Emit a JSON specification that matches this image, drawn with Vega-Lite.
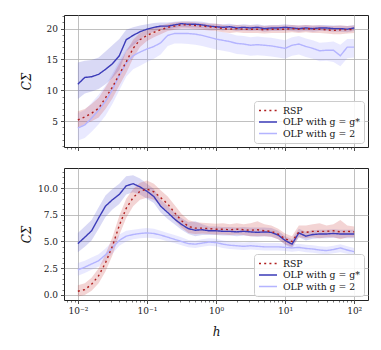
{
"$schema": "https://vega.github.io/schema/vega-lite/v6.json",
"padding": {"left": 19, "top": 14, "right": 5, "bottom": 5},
"spacing": 15,
"config": {
  "view": {"stroke": "#222222", "strokeWidth": 1},
  "font": "DejaVu Serif",
  "axis": {"labelFont": "DejaVu Serif", "labelFontSize": 9, "labelColor": "#222222", "titleFont": "DejaVu Serif", "titleFontWeight": "normal", "titleColor": "#111111", "tickColor": "#222222", "tickSize": 3.5, "tickWidth": 0.8, "domain": false, "gridColor": "#b0b0b0", "gridWidth": 0.8},
  "legend": {"orient": "bottom-right", "offset": 4, "padding": 4, "fillColor": "rgba(255,255,255,0.85)", "strokeColor": "#cccccc", "cornerRadius": 3, "labelFont": "DejaVu Serif", "labelFontSize": 9.3, "labelColor": "#111111", "symbolType": "M-1,0H3", "symbolSize": 81, "symbolStrokeWidth": 1.6, "rowPadding": 0.5, "labelOffset": 14}
},
"datasets": {
"top": [
{"h":0.01,"s":"OLP with g = 2","v":3.9,"lo":1.9,"hi":6.3},
{"h":0.0126,"s":"OLP with g = 2","v":4.4,"lo":2.3,"hi":6.8},
{"h":0.0158,"s":"OLP with g = 2","v":5.5,"lo":3.3,"hi":8.0},
{"h":0.02,"s":"OLP with g = 2","v":6.8,"lo":4.5,"hi":9.3},
{"h":0.0251,"s":"OLP with g = 2","v":8.2,"lo":5.9,"hi":10.8},
{"h":0.0316,"s":"OLP with g = 2","v":10.1,"lo":7.8,"hi":12.7},
{"h":0.0398,"s":"OLP with g = 2","v":12.4,"lo":10.0,"hi":14.8},
{"h":0.0501,"s":"OLP with g = 2","v":14.4,"lo":12.2,"hi":16.6},
{"h":0.0631,"s":"OLP with g = 2","v":15.6,"lo":13.4,"hi":17.8},
{"h":0.0794,"s":"OLP with g = 2","v":16.2,"lo":14.0,"hi":18.4},
{"h":0.1,"s":"OLP with g = 2","v":16.7,"lo":14.6,"hi":18.8},
{"h":0.126,"s":"OLP with g = 2","v":17.1,"lo":15.1,"hi":19.2},
{"h":0.158,"s":"OLP with g = 2","v":17.7,"lo":15.8,"hi":19.6},
{"h":0.2,"s":"OLP with g = 2","v":18.9,"lo":17.2,"hi":20.3},
{"h":0.251,"s":"OLP with g = 2","v":19.2,"lo":17.6,"hi":20.5},
{"h":0.316,"s":"OLP with g = 2","v":19.2,"lo":17.6,"hi":20.5},
{"h":0.398,"s":"OLP with g = 2","v":19.2,"lo":17.5,"hi":20.5},
{"h":0.501,"s":"OLP with g = 2","v":19.1,"lo":17.4,"hi":20.4},
{"h":0.631,"s":"OLP with g = 2","v":18.9,"lo":17.2,"hi":20.2},
{"h":0.794,"s":"OLP with g = 2","v":18.6,"lo":16.9,"hi":19.9},
{"h":1,"s":"OLP with g = 2","v":18.3,"lo":16.6,"hi":19.6},
{"h":1.26,"s":"OLP with g = 2","v":18.1,"lo":16.4,"hi":19.4},
{"h":1.58,"s":"OLP with g = 2","v":17.9,"lo":16.2,"hi":19.2},
{"h":2,"s":"OLP with g = 2","v":17.6,"lo":15.9,"hi":18.9},
{"h":2.51,"s":"OLP with g = 2","v":17.5,"lo":15.8,"hi":18.8},
{"h":3.16,"s":"OLP with g = 2","v":17.3,"lo":15.6,"hi":18.6},
{"h":3.98,"s":"OLP with g = 2","v":17.4,"lo":15.7,"hi":18.7},
{"h":5.01,"s":"OLP with g = 2","v":17.3,"lo":15.6,"hi":18.6},
{"h":6.31,"s":"OLP with g = 2","v":17.2,"lo":15.5,"hi":18.5},
{"h":7.94,"s":"OLP with g = 2","v":17.0,"lo":15.3,"hi":18.3},
{"h":10,"s":"OLP with g = 2","v":16.8,"lo":15.1,"hi":18.1},
{"h":12.6,"s":"OLP with g = 2","v":17.3,"lo":15.6,"hi":18.6},
{"h":15.8,"s":"OLP with g = 2","v":17.5,"lo":15.8,"hi":18.8},
{"h":20,"s":"OLP with g = 2","v":17.1,"lo":15.4,"hi":18.4},
{"h":25.1,"s":"OLP with g = 2","v":16.8,"lo":15.1,"hi":18.1},
{"h":31.6,"s":"OLP with g = 2","v":16.4,"lo":14.7,"hi":17.7},
{"h":39.8,"s":"OLP with g = 2","v":16.5,"lo":14.8,"hi":17.8},
{"h":50.1,"s":"OLP with g = 2","v":16.5,"lo":14.6,"hi":17.9},
{"h":63.1,"s":"OLP with g = 2","v":15.6,"lo":13.9,"hi":17.4},
{"h":79.4,"s":"OLP with g = 2","v":17.0,"lo":15.2,"hi":18.3},
{"h":100,"s":"OLP with g = 2","v":17.0,"lo":15.3,"hi":18.3},
{"h":0.01,"s":"OLP with g = g*","v":11.0,"lo":8.6,"hi":14.5},
{"h":0.0126,"s":"OLP with g = g*","v":12.1,"lo":9.5,"hi":14.8},
{"h":0.0158,"s":"OLP with g = g*","v":12.2,"lo":9.8,"hi":14.9},
{"h":0.02,"s":"OLP with g = g*","v":12.6,"lo":10.2,"hi":15.3},
{"h":0.0251,"s":"OLP with g = g*","v":13.4,"lo":11.0,"hi":16.3},
{"h":0.0316,"s":"OLP with g = g*","v":14.3,"lo":12.0,"hi":17.3},
{"h":0.0398,"s":"OLP with g = g*","v":15.6,"lo":13.3,"hi":18.3},
{"h":0.0501,"s":"OLP with g = g*","v":18.2,"lo":16.3,"hi":19.8},
{"h":0.0631,"s":"OLP with g = g*","v":18.9,"lo":17.3,"hi":20.2},
{"h":0.0794,"s":"OLP with g = g*","v":19.5,"lo":18.3,"hi":20.5},
{"h":0.1,"s":"OLP with g = g*","v":19.9,"lo":19.0,"hi":20.7},
{"h":0.126,"s":"OLP with g = g*","v":20.2,"lo":19.5,"hi":20.9},
{"h":0.158,"s":"OLP with g = g*","v":20.4,"lo":19.8,"hi":21.0},
{"h":0.2,"s":"OLP with g = g*","v":20.4,"lo":19.9,"hi":21.0},
{"h":0.251,"s":"OLP with g = g*","v":20.6,"lo":20.1,"hi":21.1},
{"h":0.316,"s":"OLP with g = g*","v":20.8,"lo":20.3,"hi":21.2},
{"h":0.398,"s":"OLP with g = g*","v":20.7,"lo":20.2,"hi":21.2},
{"h":0.501,"s":"OLP with g = g*","v":20.7,"lo":20.2,"hi":21.2},
{"h":0.631,"s":"OLP with g = g*","v":20.6,"lo":20.1,"hi":21.1},
{"h":0.794,"s":"OLP with g = g*","v":20.4,"lo":19.9,"hi":20.9},
{"h":1,"s":"OLP with g = g*","v":20.3,"lo":19.8,"hi":20.8},
{"h":1.26,"s":"OLP with g = g*","v":20.2,"lo":19.7,"hi":20.7},
{"h":1.58,"s":"OLP with g = g*","v":20.3,"lo":19.8,"hi":20.8},
{"h":2,"s":"OLP with g = g*","v":20.1,"lo":19.6,"hi":20.6},
{"h":2.51,"s":"OLP with g = g*","v":20.2,"lo":19.7,"hi":20.7},
{"h":3.16,"s":"OLP with g = g*","v":20.1,"lo":19.6,"hi":20.6},
{"h":3.98,"s":"OLP with g = g*","v":20.2,"lo":19.7,"hi":20.7},
{"h":5.01,"s":"OLP with g = g*","v":20.0,"lo":19.5,"hi":20.5},
{"h":6.31,"s":"OLP with g = g*","v":20.1,"lo":19.6,"hi":20.6},
{"h":7.94,"s":"OLP with g = g*","v":20.1,"lo":19.6,"hi":20.6},
{"h":10,"s":"OLP with g = g*","v":20.2,"lo":19.7,"hi":20.7},
{"h":12.6,"s":"OLP with g = g*","v":20.1,"lo":19.6,"hi":20.6},
{"h":15.8,"s":"OLP with g = g*","v":20.0,"lo":19.5,"hi":20.5},
{"h":20,"s":"OLP with g = g*","v":20.1,"lo":19.6,"hi":20.6},
{"h":25.1,"s":"OLP with g = g*","v":20.0,"lo":19.5,"hi":20.5},
{"h":31.6,"s":"OLP with g = g*","v":20.1,"lo":19.6,"hi":20.6},
{"h":39.8,"s":"OLP with g = g*","v":20.1,"lo":19.6,"hi":20.6},
{"h":50.1,"s":"OLP with g = g*","v":20.0,"lo":19.5,"hi":20.5},
{"h":63.1,"s":"OLP with g = g*","v":20.0,"lo":19.5,"hi":20.5},
{"h":79.4,"s":"OLP with g = g*","v":19.9,"lo":19.4,"hi":20.4},
{"h":100,"s":"OLP with g = g*","v":20.1,"lo":19.6,"hi":20.6},
{"h":0.01,"s":"RSP","v":5.2,"lo":4.0,"hi":6.6},
{"h":0.0126,"s":"RSP","v":5.7,"lo":4.5,"hi":7.0},
{"h":0.0158,"s":"RSP","v":6.3,"lo":5.0,"hi":7.8},
{"h":0.02,"s":"RSP","v":7.1,"lo":5.6,"hi":8.8},
{"h":0.0251,"s":"RSP","v":8.8,"lo":7.0,"hi":10.5},
{"h":0.0316,"s":"RSP","v":10.5,"lo":8.7,"hi":12.3},
{"h":0.0398,"s":"RSP","v":12.6,"lo":10.8,"hi":14.3},
{"h":0.0501,"s":"RSP","v":14.6,"lo":12.8,"hi":16.3},
{"h":0.0631,"s":"RSP","v":16.8,"lo":15.2,"hi":18.2},
{"h":0.0794,"s":"RSP","v":18.2,"lo":17.0,"hi":19.3},
{"h":0.1,"s":"RSP","v":18.9,"lo":18.0,"hi":19.8},
{"h":0.126,"s":"RSP","v":19.4,"lo":18.6,"hi":20.2},
{"h":0.158,"s":"RSP","v":19.8,"lo":19.1,"hi":20.5},
{"h":0.2,"s":"RSP","v":20.2,"lo":19.6,"hi":20.8},
{"h":0.251,"s":"RSP","v":20.4,"lo":19.8,"hi":21.0},
{"h":0.316,"s":"RSP","v":20.6,"lo":20.0,"hi":21.1},
{"h":0.398,"s":"RSP","v":20.6,"lo":20.0,"hi":21.1},
{"h":0.501,"s":"RSP","v":20.5,"lo":19.9,"hi":21.0},
{"h":0.631,"s":"RSP","v":20.4,"lo":19.8,"hi":20.9},
{"h":0.794,"s":"RSP","v":20.3,"lo":19.7,"hi":20.8},
{"h":1,"s":"RSP","v":20.2,"lo":19.6,"hi":20.8},
{"h":1.26,"s":"RSP","v":20.0,"lo":19.4,"hi":20.6},
{"h":1.58,"s":"RSP","v":19.9,"lo":19.3,"hi":20.5},
{"h":2,"s":"RSP","v":20.0,"lo":19.4,"hi":20.6},
{"h":2.51,"s":"RSP","v":19.9,"lo":19.3,"hi":20.5},
{"h":3.16,"s":"RSP","v":19.9,"lo":19.3,"hi":20.5},
{"h":3.98,"s":"RSP","v":19.9,"lo":19.3,"hi":20.5},
{"h":5.01,"s":"RSP","v":19.8,"lo":19.2,"hi":20.4},
{"h":6.31,"s":"RSP","v":19.9,"lo":19.3,"hi":20.5},
{"h":7.94,"s":"RSP","v":19.9,"lo":19.3,"hi":20.5},
{"h":10,"s":"RSP","v":19.9,"lo":19.3,"hi":20.5},
{"h":12.6,"s":"RSP","v":20.0,"lo":19.4,"hi":20.6},
{"h":15.8,"s":"RSP","v":19.9,"lo":19.3,"hi":20.5},
{"h":20,"s":"RSP","v":20.0,"lo":19.4,"hi":20.6},
{"h":25.1,"s":"RSP","v":19.9,"lo":19.3,"hi":20.5},
{"h":31.6,"s":"RSP","v":19.9,"lo":19.3,"hi":20.5},
{"h":39.8,"s":"RSP","v":19.8,"lo":19.2,"hi":20.4},
{"h":50.1,"s":"RSP","v":19.7,"lo":19.1,"hi":20.4},
{"h":63.1,"s":"RSP","v":19.8,"lo":19.1,"hi":20.5},
{"h":79.4,"s":"RSP","v":19.8,"lo":19.2,"hi":20.4},
{"h":100,"s":"RSP","v":19.9,"lo":19.3,"hi":20.5}
],
"bottom": [
{"h":0.01,"s":"OLP with g = 2","v":2.35,"lo":1.8,"hi":3.0},
{"h":0.0126,"s":"OLP with g = 2","v":2.6,"lo":2.05,"hi":3.2},
{"h":0.0158,"s":"OLP with g = 2","v":2.9,"lo":2.35,"hi":3.5},
{"h":0.02,"s":"OLP with g = 2","v":3.2,"lo":2.65,"hi":3.8},
{"h":0.0251,"s":"OLP with g = 2","v":3.75,"lo":3.2,"hi":4.35},
{"h":0.0316,"s":"OLP with g = 2","v":4.4,"lo":3.85,"hi":5.0},
{"h":0.0398,"s":"OLP with g = 2","v":5.1,"lo":4.6,"hi":5.65},
{"h":0.0501,"s":"OLP with g = 2","v":5.5,"lo":5.0,"hi":6.0},
{"h":0.0631,"s":"OLP with g = 2","v":5.65,"lo":5.2,"hi":6.1},
{"h":0.0794,"s":"OLP with g = 2","v":5.75,"lo":5.3,"hi":6.2},
{"h":0.1,"s":"OLP with g = 2","v":5.8,"lo":5.35,"hi":6.25},
{"h":0.126,"s":"OLP with g = 2","v":5.75,"lo":5.3,"hi":6.2},
{"h":0.158,"s":"OLP with g = 2","v":5.6,"lo":5.2,"hi":6.0},
{"h":0.2,"s":"OLP with g = 2","v":5.4,"lo":5.0,"hi":5.8},
{"h":0.251,"s":"OLP with g = 2","v":5.2,"lo":4.85,"hi":5.6},
{"h":0.316,"s":"OLP with g = 2","v":5.0,"lo":4.65,"hi":5.4},
{"h":0.398,"s":"OLP with g = 2","v":4.8,"lo":4.45,"hi":5.15},
{"h":0.501,"s":"OLP with g = 2","v":4.75,"lo":4.4,"hi":5.1},
{"h":0.631,"s":"OLP with g = 2","v":4.85,"lo":4.5,"hi":5.2},
{"h":0.794,"s":"OLP with g = 2","v":4.95,"lo":4.6,"hi":5.3},
{"h":1,"s":"OLP with g = 2","v":4.9,"lo":4.55,"hi":5.25},
{"h":1.26,"s":"OLP with g = 2","v":4.75,"lo":4.4,"hi":5.1},
{"h":1.58,"s":"OLP with g = 2","v":4.65,"lo":4.3,"hi":5.0},
{"h":2,"s":"OLP with g = 2","v":4.6,"lo":4.25,"hi":4.95},
{"h":2.51,"s":"OLP with g = 2","v":4.55,"lo":4.2,"hi":4.9},
{"h":3.16,"s":"OLP with g = 2","v":4.6,"lo":4.25,"hi":4.95},
{"h":3.98,"s":"OLP with g = 2","v":4.55,"lo":4.2,"hi":4.9},
{"h":5.01,"s":"OLP with g = 2","v":4.5,"lo":4.15,"hi":4.85},
{"h":6.31,"s":"OLP with g = 2","v":4.5,"lo":4.15,"hi":4.85},
{"h":7.94,"s":"OLP with g = 2","v":4.5,"lo":4.15,"hi":4.85},
{"h":10,"s":"OLP with g = 2","v":4.45,"lo":4.1,"hi":4.8},
{"h":12.6,"s":"OLP with g = 2","v":4.4,"lo":4.05,"hi":4.75},
{"h":15.8,"s":"OLP with g = 2","v":4.45,"lo":4.1,"hi":4.8},
{"h":20,"s":"OLP with g = 2","v":4.35,"lo":4.0,"hi":4.7},
{"h":25.1,"s":"OLP with g = 2","v":4.3,"lo":3.95,"hi":4.65},
{"h":31.6,"s":"OLP with g = 2","v":4.2,"lo":3.85,"hi":4.55},
{"h":39.8,"s":"OLP with g = 2","v":4.15,"lo":3.8,"hi":4.5},
{"h":50.1,"s":"OLP with g = 2","v":4.25,"lo":3.9,"hi":4.6},
{"h":63.1,"s":"OLP with g = 2","v":4.4,"lo":4.0,"hi":4.75},
{"h":79.4,"s":"OLP with g = 2","v":4.2,"lo":3.85,"hi":4.55},
{"h":100,"s":"OLP with g = 2","v":4.05,"lo":3.7,"hi":4.4},
{"h":0.01,"s":"OLP with g = g*","v":4.8,"lo":4.0,"hi":5.8},
{"h":0.0126,"s":"OLP with g = g*","v":5.4,"lo":4.5,"hi":6.4},
{"h":0.0158,"s":"OLP with g = g*","v":6.0,"lo":5.1,"hi":7.0},
{"h":0.02,"s":"OLP with g = g*","v":7.2,"lo":6.2,"hi":8.2},
{"h":0.0251,"s":"OLP with g = g*","v":8.3,"lo":7.3,"hi":9.3},
{"h":0.0316,"s":"OLP with g = g*","v":8.9,"lo":8.0,"hi":9.9},
{"h":0.0398,"s":"OLP with g = g*","v":9.4,"lo":8.5,"hi":10.4},
{"h":0.0501,"s":"OLP with g = g*","v":10.2,"lo":9.4,"hi":11.1},
{"h":0.0631,"s":"OLP with g = g*","v":10.4,"lo":9.6,"hi":11.2},
{"h":0.0794,"s":"OLP with g = g*","v":10.1,"lo":9.4,"hi":10.9},
{"h":0.1,"s":"OLP with g = g*","v":9.7,"lo":9.0,"hi":10.4},
{"h":0.126,"s":"OLP with g = g*","v":9.2,"lo":8.6,"hi":9.9},
{"h":0.158,"s":"OLP with g = g*","v":8.3,"lo":7.7,"hi":8.9},
{"h":0.2,"s":"OLP with g = g*","v":7.7,"lo":7.1,"hi":8.3},
{"h":0.251,"s":"OLP with g = g*","v":7.1,"lo":6.6,"hi":7.7},
{"h":0.316,"s":"OLP with g = g*","v":6.6,"lo":6.1,"hi":7.2},
{"h":0.398,"s":"OLP with g = g*","v":6.2,"lo":5.7,"hi":6.8},
{"h":0.501,"s":"OLP with g = g*","v":6.05,"lo":5.5,"hi":6.9},
{"h":0.631,"s":"OLP with g = g*","v":6.1,"lo":5.6,"hi":6.6},
{"h":0.794,"s":"OLP with g = g*","v":6.0,"lo":5.6,"hi":6.4},
{"h":1,"s":"OLP with g = g*","v":6.0,"lo":5.6,"hi":6.4},
{"h":1.26,"s":"OLP with g = g*","v":5.95,"lo":5.55,"hi":6.35},
{"h":1.58,"s":"OLP with g = g*","v":5.95,"lo":5.55,"hi":6.35},
{"h":2,"s":"OLP with g = g*","v":5.9,"lo":5.5,"hi":6.3},
{"h":2.51,"s":"OLP with g = g*","v":5.95,"lo":5.55,"hi":6.35},
{"h":3.16,"s":"OLP with g = g*","v":5.9,"lo":5.5,"hi":6.3},
{"h":3.98,"s":"OLP with g = g*","v":5.85,"lo":5.45,"hi":6.3},
{"h":5.01,"s":"OLP with g = g*","v":5.9,"lo":5.5,"hi":6.3},
{"h":6.31,"s":"OLP with g = g*","v":5.85,"lo":5.45,"hi":6.25},
{"h":7.94,"s":"OLP with g = g*","v":5.6,"lo":5.2,"hi":6.0},
{"h":10,"s":"OLP with g = g*","v":5.1,"lo":4.7,"hi":5.5},
{"h":12.6,"s":"OLP with g = g*","v":4.75,"lo":4.35,"hi":5.2},
{"h":15.8,"s":"OLP with g = g*","v":5.8,"lo":5.4,"hi":6.2},
{"h":20,"s":"OLP with g = g*","v":5.5,"lo":5.1,"hi":5.9},
{"h":25.1,"s":"OLP with g = g*","v":5.65,"lo":5.25,"hi":6.05},
{"h":31.6,"s":"OLP with g = g*","v":5.7,"lo":5.3,"hi":6.1},
{"h":39.8,"s":"OLP with g = g*","v":5.7,"lo":5.3,"hi":6.1},
{"h":50.1,"s":"OLP with g = g*","v":5.75,"lo":5.35,"hi":6.15},
{"h":63.1,"s":"OLP with g = g*","v":5.7,"lo":5.3,"hi":6.1},
{"h":79.4,"s":"OLP with g = g*","v":5.7,"lo":5.3,"hi":6.1},
{"h":100,"s":"OLP with g = g*","v":5.7,"lo":5.3,"hi":6.1},
{"h":0.01,"s":"RSP","v":0.35,"lo":-0.15,"hi":0.9},
{"h":0.0126,"s":"RSP","v":0.5,"lo":0.0,"hi":1.1},
{"h":0.0158,"s":"RSP","v":1.0,"lo":0.4,"hi":1.6},
{"h":0.02,"s":"RSP","v":1.8,"lo":1.1,"hi":2.5},
{"h":0.0251,"s":"RSP","v":3.0,"lo":2.2,"hi":3.8},
{"h":0.0316,"s":"RSP","v":4.55,"lo":3.7,"hi":5.4},
{"h":0.0398,"s":"RSP","v":6.5,"lo":5.6,"hi":7.4},
{"h":0.0501,"s":"RSP","v":8.1,"lo":7.2,"hi":9.0},
{"h":0.0631,"s":"RSP","v":9.1,"lo":8.3,"hi":9.9},
{"h":0.0794,"s":"RSP","v":9.7,"lo":8.9,"hi":10.5},
{"h":0.1,"s":"RSP","v":9.9,"lo":9.1,"hi":10.7},
{"h":0.126,"s":"RSP","v":9.65,"lo":8.9,"hi":10.4},
{"h":0.158,"s":"RSP","v":9.1,"lo":8.4,"hi":9.8},
{"h":0.2,"s":"RSP","v":8.5,"lo":7.8,"hi":9.2},
{"h":0.251,"s":"RSP","v":7.7,"lo":7.0,"hi":8.4},
{"h":0.316,"s":"RSP","v":6.95,"lo":6.3,"hi":7.6},
{"h":0.398,"s":"RSP","v":6.4,"lo":5.8,"hi":7.0},
{"h":0.501,"s":"RSP","v":6.25,"lo":5.7,"hi":6.8},
{"h":0.631,"s":"RSP","v":6.25,"lo":5.75,"hi":6.75},
{"h":0.794,"s":"RSP","v":6.2,"lo":5.7,"hi":6.7},
{"h":1,"s":"RSP","v":6.15,"lo":5.65,"hi":6.65},
{"h":1.26,"s":"RSP","v":6.15,"lo":5.65,"hi":6.7},
{"h":1.58,"s":"RSP","v":6.1,"lo":5.6,"hi":6.6},
{"h":2,"s":"RSP","v":6.15,"lo":5.65,"hi":6.7},
{"h":2.51,"s":"RSP","v":6.1,"lo":5.6,"hi":6.6},
{"h":3.16,"s":"RSP","v":6.05,"lo":5.5,"hi":6.7},
{"h":3.98,"s":"RSP","v":6.1,"lo":5.5,"hi":6.9},
{"h":5.01,"s":"RSP","v":6.0,"lo":5.5,"hi":6.6},
{"h":6.31,"s":"RSP","v":5.95,"lo":5.45,"hi":6.5},
{"h":7.94,"s":"RSP","v":5.7,"lo":5.2,"hi":6.2},
{"h":10,"s":"RSP","v":5.25,"lo":4.75,"hi":5.75},
{"h":12.6,"s":"RSP","v":5.0,"lo":4.5,"hi":5.5},
{"h":15.8,"s":"RSP","v":5.9,"lo":5.4,"hi":6.5},
{"h":20,"s":"RSP","v":5.85,"lo":5.3,"hi":6.5},
{"h":25.1,"s":"RSP","v":5.95,"lo":5.4,"hi":6.6},
{"h":31.6,"s":"RSP","v":5.95,"lo":5.3,"hi":6.7},
{"h":39.8,"s":"RSP","v":5.95,"lo":5.4,"hi":6.5},
{"h":50.1,"s":"RSP","v":6.0,"lo":5.4,"hi":6.6},
{"h":63.1,"s":"RSP","v":5.9,"lo":5.2,"hi":7.0},
{"h":79.4,"s":"RSP","v":5.95,"lo":5.4,"hi":6.5},
{"h":100,"s":"RSP","v":5.9,"lo":5.4,"hi":6.4}
]
},
"resolve": {"scale": {"x": "independent", "y": "independent"}, "legend": {"stroke": "independent", "strokeDash": "independent"}},
"vconcat": [
{
  "width": 304, "height": 132,
  "data": {"name": "top"},
  "resolve": {"axis": {"x": "independent", "y": "independent"}},
  "layer": [
    {
      "mark": {"type": "area", "opacity": 0.22},
      "encoding": {
        "x": {"field": "h", "type": "quantitative", "scale": {"type": "log", "domain": [0.0063, 158.5], "nice": false},
              "axis": {"orient": "bottom", "values": [0.007,0.008,0.009,0.02,0.03,0.04,0.05,0.06,0.07,0.08,0.09,0.2,0.3,0.4,0.5,0.6,0.7,0.8,0.9,2,3,4,5,6,7,8,9,20,30,40,50,60,70,80,90], "labels": false, "grid": false, "tickSize": 2, "tickWidth": 0.6, "title": null}},
        "y": {"field": "lo", "type": "quantitative", "scale": {"domain": [0.83, 22.2], "nice": false, "zero": false},
              "axis": {"orient": "left", "values": [1,2,3,4,6,7,8,9,11,12,13,14,16,17,18,19,21,22], "labels": false, "grid": false, "tickSize": 2, "tickWidth": 0.6, "title": null}},
        "y2": {"field": "hi"},
        "fill": {"field": "s", "type": "nominal", "legend": null,
                 "scale": {"domain": ["RSP", "OLP with g = g*", "OLP with g = 2"], "range": ["#c83c3c", "#5050d0", "#9a9aff"]}}
      }
    },
    {
      "mark": {"type": "line", "strokeWidth": 1.4, "strokeCap": "butt"},
      "encoding": {
        "x": {"field": "h", "type": "quantitative", "scale": {"type": "log", "domain": [0.0063, 158.5], "nice": false},
              "axis": {"orient": "bottom", "values": [0.01, 0.1, 1, 10, 100], "labels": false, "grid": true, "title": null}},
        "y": {"field": "v", "type": "quantitative", "scale": {"domain": [0.83, 22.2], "nice": false, "zero": false},
              "axis": {"orient": "left", "values": [5, 10, 15, 20], "grid": true, "labelPadding": 3, "title": "CΣ", "titleFontStyle": "italic", "titleFontSize": 12, "titleX": -38, "titleY": 66, "titleBaseline": "middle", "titleAngle": -90}},
        "stroke": {"field": "s", "type": "nominal", "title": null,
                   "scale": {"domain": ["RSP", "OLP with g = g*", "OLP with g = 2"], "range": ["#b01e1e", "#3b3bb8", "#b4b4ff"]}},
        "strokeDash": {"field": "s", "type": "nominal", "title": null,
                       "scale": {"domain": ["RSP", "OLP with g = g*", "OLP with g = 2"], "range": [[2, 3.2], [1, 0], [1, 0]]}}
      }
    }
  ]
},
{
  "width": 304, "height": 132,
  "data": {"name": "bottom"},
  "resolve": {"axis": {"x": "independent", "y": "independent"}},
  "layer": [
    {
      "mark": {"type": "area", "opacity": 0.22},
      "encoding": {
        "x": {"field": "h", "type": "quantitative", "scale": {"type": "log", "domain": [0.0063, 158.5], "nice": false},
              "axis": {"orient": "bottom", "values": [0.007,0.008,0.009,0.02,0.03,0.04,0.05,0.06,0.07,0.08,0.09,0.2,0.3,0.4,0.5,0.6,0.7,0.8,0.9,2,3,4,5,6,7,8,9,20,30,40,50,60,70,80,90], "labels": false, "grid": false, "tickSize": 2, "tickWidth": 0.6, "title": null}},
        "y": {"field": "lo", "type": "quantitative", "scale": {"domain": [-0.47, 11.87], "nice": false, "zero": false},
              "axis": {"orient": "left", "values": [0.5,1,1.5,2,3,3.5,4,4.5,5.5,6,6.5,7,8,8.5,9,9.5,10.5,11,11.5], "labels": false, "grid": false, "tickSize": 2, "tickWidth": 0.6, "title": null}},
        "y2": {"field": "hi"},
        "fill": {"field": "s", "type": "nominal", "legend": null,
                 "scale": {"domain": ["RSP", "OLP with g = g*", "OLP with g = 2"], "range": ["#c83c3c", "#5050d0", "#9a9aff"]}}
      }
    },
    {
      "mark": {"type": "line", "strokeWidth": 1.4, "strokeCap": "butt"},
      "encoding": {
        "x": {"field": "h", "type": "quantitative", "scale": {"type": "log", "domain": [0.0063, 158.5], "nice": false},
              "axis": {"orient": "bottom", "values": [0.01, 0.1, 1, 10, 100], "grid": true, "labelPadding": 3, "labelExpr": "datum.value < 0.05 ? '10⁻²' : datum.value < 0.5 ? '10⁻¹' : datum.value < 5 ? '10⁰' : datum.value < 50 ? '10¹' : '10²'", "title": "h", "titleFontStyle": "italic", "titleFontSize": 12, "titleY": 31, "titleBaseline": "middle"}},
        "y": {"field": "v", "type": "quantitative", "scale": {"domain": [-0.47, 11.87], "nice": false, "zero": false},
              "axis": {"orient": "left", "values": [0, 2.5, 5, 7.5, 10], "format": ".1f", "grid": true, "labelPadding": 3, "title": "CΣ", "titleFontStyle": "italic", "titleFontSize": 12, "titleX": -38, "titleY": 66, "titleBaseline": "middle", "titleAngle": -90}},
        "stroke": {"field": "s", "type": "nominal", "title": null,
                   "scale": {"domain": ["RSP", "OLP with g = g*", "OLP with g = 2"], "range": ["#b01e1e", "#3b3bb8", "#b4b4ff"]}},
        "strokeDash": {"field": "s", "type": "nominal", "title": null,
                       "scale": {"domain": ["RSP", "OLP with g = g*", "OLP with g = 2"], "range": [[2, 3.2], [1, 0], [1, 0]]}}
      }
    }
  ]
}
]
}
